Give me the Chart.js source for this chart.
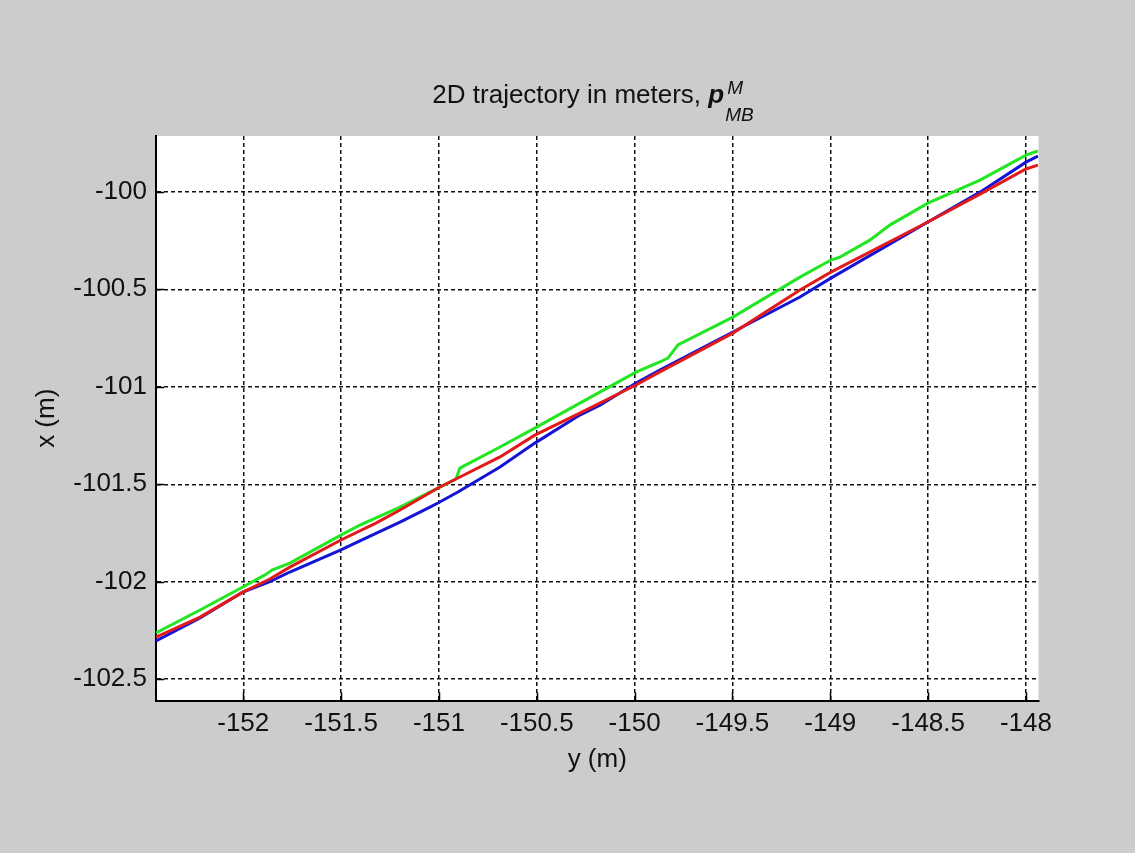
<!DOCTYPE html>
<html>
<head>
<meta charset="utf-8">
<title>2D trajectory</title>
<script src="https://cdn.jsdelivr.net/npm/chart.js@4.4.0/dist/chart.umd.min.js"></script>
<style>
  html, body { margin: 0; padding: 0; background: #cccccc; }
  #wrap { width: 1135px; height: 853px; }
</style>
</head>
<body>
<div id="wrap"><canvas id="traj"></canvas></div>
<script>
// axis ticks (m)
const yTicks = [-152, -151.5, -151, -150.5, -150, -149.5, -149, -148.5, -148];
const xTicks = [-100, -100.5, -101, -101.5, -102, -102.5];

// blue track: y (horizontal) / x (vertical)
const blueY = [-152.446, -152.221, -152.002, -151.864, -151.762, -151.501, -151.404, -151.199, -151.046, -151.005, -150.903, -150.688, -150.510, -150.280, -150.177, -149.993, -149.871, -149.498, -149.155, -148.997, -148.501, -148.235, -148.000, -147.939];
const blueX = [-102.304, -102.186, -102.053, -101.999, -101.950, -101.837, -101.790, -101.694, -101.617, -101.596, -101.540, -101.412, -101.289, -101.145, -101.095, -100.981, -100.915, -100.719, -100.540, -100.443, -100.155, -100.002, -99.848, -99.817];

// green track
const greenY = [-152.446, -152.221, -152.002, -151.889, -151.853, -151.762, -151.501, -151.404, -151.199, -151.005, -150.913, -150.893, -150.688, -150.510, -150.280, -149.993, -149.871, -149.830, -149.779, -149.498, -149.155, -148.997, -148.951, -148.798, -148.696, -148.501, -148.235, -148.000, -147.939];
const greenX = [-102.263, -102.145, -102.027, -101.965, -101.940, -101.904, -101.761, -101.709, -101.617, -101.520, -101.473, -101.417, -101.309, -101.212, -101.084, -100.925, -100.873, -100.853, -100.786, -100.643, -100.438, -100.350, -100.335, -100.248, -100.171, -100.058, -99.940, -99.812, -99.791];

// red track
const redY = [-152.446, -152.221, -152.002, -151.864, -151.762, -151.501, -151.322, -151.199, -151.005, -150.903, -150.688, -150.510, -150.280, -149.993, -149.871, -149.498, -149.155, -148.997, -148.501, -148.235, -148.000, -147.939];
const redX = [-102.284, -102.181, -102.053, -101.986, -101.925, -101.786, -101.699, -101.632, -101.519, -101.468, -101.360, -101.248, -101.135, -100.991, -100.924, -100.725, -100.504, -100.412, -100.155, -100.012, -99.883, -99.863];

const FONT = 'Liberation Sans, Arial, sans-serif';

function pts(h, v) {
  return h.map((val, i) => ({x: val, y: v[i]}));
}

// grey figure, white axes
const backdrop = {
  id: 'backdrop',
  beforeDraw(chart) {
    const {ctx, chartArea: a} = chart;
    ctx.save();
    ctx.fillStyle = '#cccccc';
    ctx.fillRect(0, 0, chart.width, chart.height);
    ctx.fillStyle = '#ffffff';
    ctx.fillRect(a.left, a.top, a.right - a.left, a.bottom - a.top);
    ctx.restore();
  }
};

// short tick marks pointing into the plot
const innerTicks = {
  id: 'innerTicks',
  afterDatasetsDraw(chart) {
    const {ctx, chartArea: a, scales} = chart;
    ctx.save();
    ctx.strokeStyle = '#000';
    ctx.lineWidth = 1.5;
    ctx.beginPath();
    scales.x.ticks.forEach(t => {
      const px = Math.round(scales.x.getPixelForValue(t.value)) + 0.5;
      ctx.moveTo(px, a.bottom);
      ctx.lineTo(px, a.bottom - 8);
    });
    scales.y.ticks.forEach(t => {
      const py = Math.round(scales.y.getPixelForValue(t.value)) + 0.5;
      ctx.moveTo(a.left, py);
      ctx.lineTo(a.left + 8, py);
    });
    ctx.stroke();
    ctx.restore();
  }
};

// title with sub/superscript on p
const mathTitle = {
  id: 'mathTitle',
  afterDraw(chart) {
    const ctx = chart.ctx;
    const cx = 593, base = 103;
    const main = '2D trajectory in meters, ';
    ctx.save();
    ctx.fillStyle = '#111';
    ctx.textBaseline = 'alphabetic';
    ctx.textAlign = 'left';
    ctx.font = '26px ' + FONT;
    const wMain = ctx.measureText(main).width;
    ctx.font = 'italic bold 26px ' + FONT;
    const wP = ctx.measureText('p').width;
    ctx.font = 'italic 19px ' + FONT;
    const wSub = ctx.measureText('MB').width;
    let x = cx - (wMain + wP + 1 + wSub) / 2;
    ctx.font = '26px ' + FONT;
    ctx.fillText(main, x, base);
    x += wMain;
    ctx.font = 'italic bold 26px ' + FONT;
    ctx.fillText('p', x, base);
    x += wP + 1;
    ctx.font = 'italic 19px ' + FONT;
    ctx.fillText('M', x + 2, base - 9);
    ctx.fillText('MB', x, base + 18);
    ctx.restore();
  }
};

new Chart(document.getElementById('traj'), {
  type: 'line',
  data: {
    datasets: [{
      label: 'red',
      data: pts(redY, redX),
      borderColor: '#e31a1a',
      borderWidth: 3,
      order: 0
    }, {
      label: 'green',
      data: pts(greenY, greenX),
      borderColor: '#22e622',
      borderWidth: 3,
      order: 1
    }, {
      label: 'blue',
      data: pts(blueY, blueX),
      borderColor: '#1414d6',
      borderWidth: 3,
      order: 2
    }]
  },
  options: {
    responsive: true,
    maintainAspectRatio: false,
    animation: false,
    devicePixelRatio: 1,
    layout: {
      padding: {left: 16, top: 136, right: 96.5, bottom: 52.5}
    },
    elements: {
      point: {radius: 0},
      line: {tension: 0, fill: false}
    },
    scales: {
      x: {
        type: 'linear',
        min: -152.446,
        max: -147.936,
        afterFit: s => { s.height = 100; },
        afterBuildTicks: s => { s.ticks = yTicks.map(v => ({value: v})); },
        grid: {color: '#111', lineWidth: 1.5, drawTicks: false},
        border: {display: true, color: '#000', width: 2, dash: [4, 3]},
        ticks: {
          padding: 8,
          color: '#111',
          font: {family: FONT, size: 26},
          maxRotation: 0,
          autoSkip: false,
          callback: v => String(v)
        },
        title: {
          display: true,
          text: 'y (m)',
          color: '#111',
          font: {family: FONT, size: 26},
          padding: {top: 0, bottom: 25}
        }
      },
      y: {
        type: 'linear',
        min: -102.609,
        max: -99.714,
        afterFit: s => { s.width = 140; },
        afterBuildTicks: s => { s.ticks = xTicks.map(v => ({value: v})); },
        grid: {color: '#111', lineWidth: 1.5, drawTicks: false},
        border: {display: true, color: '#000', width: 2, dash: [4, 3]},
        ticks: {
          padding: 9,
          color: '#111',
          font: {family: FONT, size: 26},
          autoSkip: false,
          callback: v => String(v)
        },
        title: {
          display: true,
          text: 'x (m)',
          color: '#111',
          font: {family: FONT, size: 26},
          padding: {top: 15, bottom: 0}
        }
      }
    },
    plugins: {
      legend: {display: false},
      tooltip: {enabled: false},
      title: {display: false}
    }
  },
  plugins: [backdrop, innerTicks, mathTitle]
});
</script>
</body>
</html>
